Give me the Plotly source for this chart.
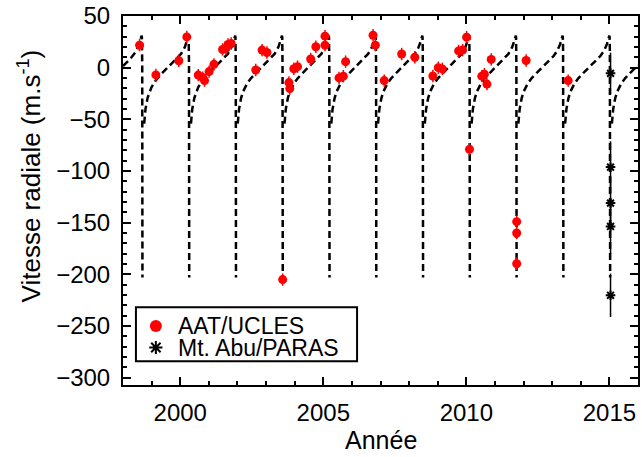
import numpy as np
import plotly.graph_objects as go

# AAT/UCLES radial velocities (decimal year, m/s, 1-sigma)
aat_year = [1998.58, 1999.15, 1999.95, 2000.23, 2000.63, 2000.79, 2000.85, 2001.01,
            2001.18, 2001.48, 2001.60, 2001.67, 2001.78, 2002.64, 2002.86, 2003.03,
            2003.58, 2003.80, 2003.83, 2003.97, 2004.10, 2004.56, 2004.74, 2005.06,
            2005.06, 2005.55, 2005.70, 2005.78, 2006.74, 2006.82, 2007.13, 2007.74,
            2008.20, 2008.83, 2009.02, 2009.16, 2009.73, 2009.87, 2010.01, 2010.11,
            2010.54, 2010.63, 2010.72, 2010.87, 2011.76, 2011.76, 2011.76, 2012.09,
            2013.56]
aat_rv = [21.8, -7.0, 6.7, 29.8, -7.2, -9.6, -12.5, -3.8,
          3.2, 17.6, 18.8, 22.4, 23.4, -2.2, 17.0, 14.7,
          -205.0, -14.4, -20.2, -1.0, 1.0, 8.4, 20.2, 30.5,
          21.8, -9.9, -8.2, 5.8, 31.4, 21.8, -12.5, 13.2,
          10.1, -8.0, 0.0, -1.2, 16.2, 17.0, 29.5, -79.0,
          -8.2, -6.3, -15.9, 8.0, -149.0, -159.9, -189.7, 6.9,
          -12.5]
aat_err = [6.0] * len(aat_rv)

# Mt. Abu/PARAS radial velocities
paras_year = [2015.04, 2015.04, 2015.04, 2015.04, 2015.04]
paras_rv = [-5.5, -96.2, -131.0, -153.6, -220.2]
paras_err = [20.0, 25.0, 25.0, 27.0, 21.0]

# Keplerian orbit solution
period_days = 597.07
ecc = 0.95
omega_deg = 136.0
k_amp = 117.0
gamma = -6.1
t_peri = 2015.025  # decimal year

legend_names = ["AAT/UCLES", "Mt. Abu/PARAS"]

x_range = [1998.0, 2016.0]
y_range = [-307.0, 50.0]

P_YR = period_days / 365.25
W = np.radians(omega_deg)


def keplerian_rv(t_year):
    mean_anom = 2.0 * np.pi * (((t_year - t_peri) / P_YR) % 1.0)
    ecc_anom = np.where(mean_anom < np.pi, mean_anom + ecc / 2, mean_anom - ecc / 2)
    for _ in range(80):
        f = ecc_anom - ecc * np.sin(ecc_anom) - mean_anom
        ecc_anom = ecc_anom - f / (1.0 - ecc * np.cos(ecc_anom))
    true_anom = 2.0 * np.arctan2(np.sqrt(1 + ecc) * np.sin(ecc_anom / 2),
                                 np.sqrt(1 - ecc) * np.cos(ecc_anom / 2))
    return gamma + k_amp * (np.cos(true_anom + W) + ecc * np.cos(W))


# time of velocity minimum relative to periastron
nu_min = np.pi - W
e_min = 2.0 * np.arctan(np.sqrt((1 - ecc) / (1 + ecc)) * np.tan(nu_min / 2))
dt_min = (e_min - ecc * np.sin(e_min)) / (2 * np.pi) * P_YR

# one path per orbit: from just after a minimum to the next minimum,
# so the steep periastron swing is drawn once as a single dashed stroke
restart = 22.0 / 365.25
n_lo = int(np.floor((x_range[0] - t_peri) / P_YR)) - 1
n_hi = int(np.ceil((x_range[1] - t_peri) / P_YR)) + 1
t_model, rv_model = [], []
for n in range(n_lo, n_hi):
    t0 = t_peri + n * P_YR + dt_min + restart
    t1 = t_peri + (n + 1) * P_YR + dt_min
    t = np.linspace(t0, t1, 6000)
    t = t[(t >= x_range[0]) & (t <= x_range[1])]
    if t.size == 0:
        continue
    rv = keplerian_rv(t)
    if t1 <= x_range[1]:
        rv[-1] = gamma + k_amp * (np.cos(nu_min + W) + ecc * np.cos(W))
    t_model.extend(t.tolist() + [None])
    rv_model.extend(rv.tolist() + [None])

FONT = "Liberation Sans, Arial, sans-serif"

fig = go.Figure()

fig.add_trace(go.Scatter(
    x=t_model, y=rv_model, mode="lines", connectgaps=False,
    line=dict(color="black", width=2.5, dash="7px,4px"),
    showlegend=False, hoverinfo="skip"))

fig.add_trace(go.Scatter(
    x=aat_year, y=aat_rv, mode="markers", name=legend_names[0],
    marker=dict(color="#ff0000", size=9, symbol="circle"),
    error_y=dict(type="data", array=aat_err, color="#ff0000", thickness=1.5, width=0),
    showlegend=False))

fig.add_trace(go.Scatter(
    x=paras_year, y=paras_rv, mode="markers", name=legend_names[1],
    marker=dict(symbol="asterisk-open", size=8, color="black",
                line=dict(color="black", width=2)),
    error_y=dict(type="data", array=paras_err, color="black", thickness=1.5, width=0),
    showlegend=False))

# legend box drawn on an overlay axis spanning the plot area (0..1)
leg_box = dict(x0=0.0251, x1=0.4545, y0=0.0647, y1=0.211)
leg_sym_x = 0.0638
leg_text_x = 0.1025
leg_rows_y = [0.1598, 0.1016]

fig.add_shape(type="rect", xref="x2", yref="y2",
              x0=leg_box["x0"], x1=leg_box["x1"], y0=leg_box["y0"], y1=leg_box["y1"],
              line=dict(color="black", width=2), fillcolor="white", layer="below")
fig.add_trace(go.Scatter(
    x=[leg_sym_x], y=[leg_rows_y[0]], xaxis="x2", yaxis="y2", mode="markers",
    marker=dict(color="#ff0000", size=12, symbol="circle"),
    showlegend=False, hoverinfo="skip"))
fig.add_trace(go.Scatter(
    x=[leg_sym_x], y=[leg_rows_y[1]], xaxis="x2", yaxis="y2", mode="markers",
    marker=dict(symbol="asterisk-open", size=11, color="black",
                line=dict(color="black", width=2)),
    showlegend=False, hoverinfo="skip"))
for name, yy in zip(legend_names, leg_rows_y):
    fig.add_annotation(text=name, xref="x2", yref="y2", x=leg_text_x, y=yy,
                       xanchor="left", yanchor="middle", showarrow=False,
                       font=dict(family=FONT, size=23, color="black"))

axis_common = dict(
    showline=True, linecolor="black", linewidth=2, mirror="allticks",
    ticks="inside", ticklen=8, tickwidth=1.5, tickcolor="black",
    showgrid=False, zeroline=False,
    tickfont=dict(family=FONT, size=24, color="black"),
)

fig.update_xaxes(range=x_range, tick0=2000, dtick=5,
                 minor=dict(dtick=1, ticklen=4, tickwidth=1.5, tickcolor="black",
                            ticks="inside", showgrid=False),
                 ticklabelstandoff=5, **axis_common)
fig.update_yaxes(range=y_range, tick0=0, dtick=50,
                 minor=dict(dtick=10, ticklen=4, tickwidth=1.5, tickcolor="black",
                            ticks="inside", showgrid=False),
                 ticklabelstandoff=6, **axis_common)

fig.add_annotation(text="Vitesse radiale (m.s<sup>-1</sup>)", xref="paper", yref="paper",
                   x=-0.182, y=0.566, textangle=-90, showarrow=False,
                   xanchor="center", yanchor="middle",
                   font=dict(family=FONT, size=26, color="black"))
fig.add_annotation(text="Année", xref="paper", yref="paper",
                   x=0.501, y=-0.148, showarrow=False,
                   xanchor="center", yanchor="middle",
                   font=dict(family=FONT, size=25, color="black"))

fig.update_layout(
    width=642, height=457,
    margin=dict(l=123, r=2, t=14, b=72),
    plot_bgcolor="white", paper_bgcolor="white",
    showlegend=False,
    xaxis2=dict(range=[0, 1], overlaying="x", visible=False, fixedrange=True),
    yaxis2=dict(range=[0, 1], overlaying="y", visible=False, fixedrange=True),
)

fig.write_html("out.html")
